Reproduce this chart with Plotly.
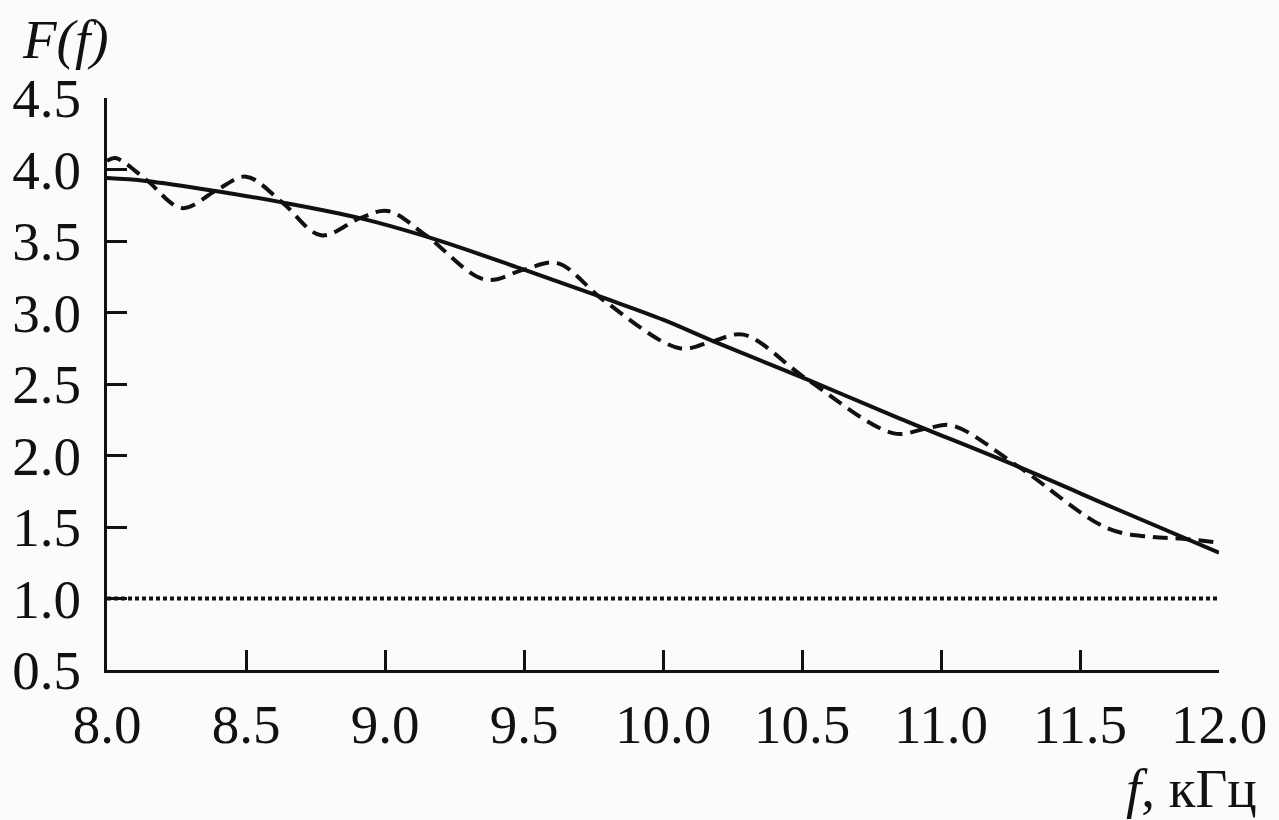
import plotly.graph_objects as go

# Smooth (solid) curve F(f)
solid_f = [8.0, 8.14, 8.39, 8.63, 8.91, 9.15, 9.50, 9.79, 10.0, 10.18, 10.52, 10.85, 11.28, 11.65, 12.0]
solid_F = [3.94, 3.92, 3.85, 3.77, 3.66, 3.53, 3.30, 3.10, 2.95, 2.80, 2.53, 2.26, 1.92, 1.61, 1.32]

# Oscillating (dashed) curve F(f)
dash_f = [8.0, 8.03, 8.14, 8.27, 8.39, 8.50, 8.63, 8.77, 8.91, 9.01, 9.15, 9.36, 9.50, 9.62,
          9.79, 10.06, 10.18, 10.29, 10.52, 10.83, 10.95, 11.04, 11.28, 11.60, 11.76, 11.86, 12.0]
dash_F = [4.06, 4.08, 3.93, 3.73, 3.85, 3.95, 3.77, 3.54, 3.66, 3.71, 3.535, 3.23, 3.30, 3.345,
          3.08, 2.75, 2.80, 2.845, 2.53, 2.155, 2.19, 2.21, 1.92, 1.49, 1.43, 1.42, 1.39]

# Reference level F = 1
ref_f = [8.0, 12.0]
ref_F = [1.0, 1.0]

x_ticks = [8.0, 8.5, 9.0, 9.5, 10.0, 10.5, 11.0, 11.5, 12.0]
x_ticklabels = ["8.0", "8.5", "9.0", "9.5", "10.0", "10.5", "11.0", "11.5", "12.0"]
y_ticks = [0.5, 1.0, 1.5, 2.0, 2.5, 3.0, 3.5, 4.0, 4.5]
y_ticklabels = ["0.5", "1.0", "1.5", "2.0", "2.5", "3.0", "3.5", "4.0", "4.5"]

FONT = "Liberation Serif, Times New Roman, serif"
INK = "#111111"
FS = 55

fig = go.Figure()
fig.add_trace(go.Scatter(x=ref_f, y=ref_F, mode="lines",
                         line=dict(color=INK, width=4, dash="4px,3px"),
                         hoverinfo="skip", showlegend=False))
fig.add_trace(go.Scatter(x=dash_f, y=dash_F, mode="lines",
                         line=dict(color=INK, width=4, dash="15px,8px", shape="spline", smoothing=1.0),
                         showlegend=False))
fig.add_trace(go.Scatter(x=solid_f, y=solid_F, mode="lines",
                         line=dict(color=INK, width=4, shape="spline", smoothing=1.0),
                         showlegend=False))

fig.update_layout(
    width=1279, height=820,
    margin=dict(l=107, r=51, t=98, b=150),
    paper_bgcolor="#fbfbfb", plot_bgcolor="#fbfbfb",
    font=dict(family=FONT, size=FS, color=INK),
    showlegend=False,
    xaxis=dict(range=[8.0, 12.0], tickvals=x_ticks, ticktext=x_ticklabels,
               showgrid=False, zeroline=False, showline=True, linecolor=INK, linewidth=3,
               ticks="inside", ticklen=20, tickwidth=3, tickcolor=INK,
               ticklabelstandoff=4, tickfont=dict(family=FONT, size=FS, color=INK)),
    yaxis=dict(range=[0.5, 4.5], tickvals=y_ticks, ticktext=y_ticklabels,
               showgrid=False, zeroline=False, showline=True, linecolor=INK, linewidth=3,
               ticks="inside", ticklen=20, tickwidth=3, tickcolor=INK,
               ticklabelstandoff=12, tickfont=dict(family=FONT, size=FS, color=INK)),
    annotations=[
        dict(text="F(f)", xref="paper", yref="paper",
             x=-42 / 1121, y=1 + 58 / 572, xanchor="center", yanchor="middle",
             showarrow=False, font=dict(family=FONT, size=FS, color=INK, style="italic")),
        dict(text="<i>f</i>, кГц", xref="paper", yref="paper",
             x=(1132 - 107) / 1121, y=-(788 - 670) / 572, xanchor="left", yanchor="middle",
             showarrow=False, font=dict(family=FONT, size=FS, color=INK)),
    ],
)

fig.write_html("out.html")
